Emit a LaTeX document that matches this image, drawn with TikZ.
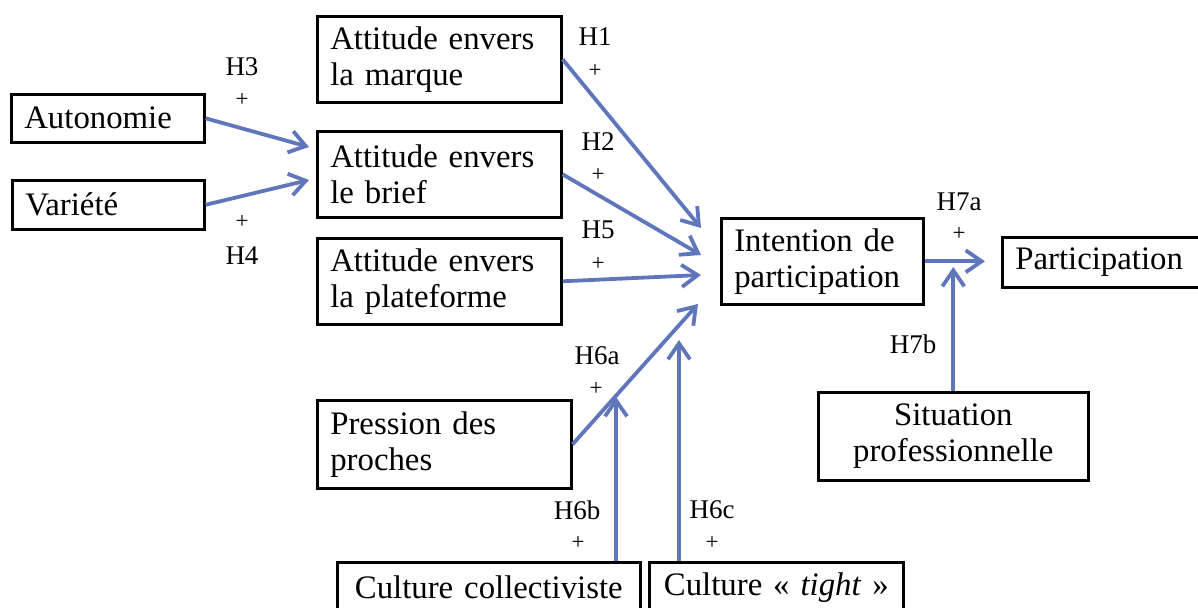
\documentclass[tikz,border=0pt]{standalone}
\usepackage{fontspec}
\setmainfont{Liberation Serif}
\usetikzlibrary{arrows.meta,calc}
\definecolor{arrblue}{RGB}{96,118,188}
\tikzset{
 box/.style={draw=black, line width=1.3pt, anchor=north west, inner xsep=6.5pt, inner ysep=0pt, font=\fontsize{16.4}{18}\selectfont, align=left},
 cbox/.style={box, align=center},
 arr/.style={draw=arrblue, line width=1.9pt, -{Straight Barb[length=8pt,width=11pt]}},
 hlab/.style={font=\fontsize{13.5}{15}\selectfont, inner sep=0pt},
 plab/.style={font=\fontsize{11.5}{12}\selectfont, inner sep=0pt},
}
\begin{document}
\begin{tikzpicture}[x=0.5pt,y=-0.5pt]
\useasboundingbox (0,0) rectangle (1198,608);
\clip (0,0) rectangle (1198,608);
% boxes
\node[box, text width=83.5pt, minimum height=24pt] (aut) at (10,93) {Autonomie};
\node[box, text width=83pt, minimum height=24.5pt] (var) at (11,179) {Variété};
\node[box, text width=109pt, minimum height=43pt] (mar) at (316,15) {Attitude envers\\la marque};
\node[box, text width=109pt, minimum height=43pt] (bri) at (316,130) {Attitude envers\\le brief};
\node[box, text width=109pt, minimum height=43pt] (pla) at (316,237) {Attitude envers\\la plateforme};
\node[box, text width=114pt, minimum height=44pt] (pre) at (316,399) {Pression des\\proches};
\node[box, text width=88pt, minimum height=43pt] (int) at (720,217) {Intention de\\participation};
\node[box, text width=102pt, minimum height=25pt] (par) at (1001,236) {Participation};
\node[cbox, text width=122pt, minimum height=44pt] (sit) at (817,391) {Situation\\professionnelle};
\node[cbox, text width=138.5pt, minimum height=25pt] (col) at (336,561) {Culture collectiviste};
\node[cbox, text width=114pt, minimum height=25pt] (tig) at (648,561) {Culture «~\textit{tight}~»};
% arrow end points
\coordinate (b1) at ($(bri.north west)+(-7,17)$);
\coordinate (b2) at ($(bri.north west)+(-7,50)$);
\coordinate (i1) at ($(int.north west)+(-19,11)$);
\coordinate (i2) at ($(int.north west)+(-19,38)$);
\coordinate (i3) at ($(int.north west)+(-19,58)$);
\coordinate (i4) at ($(int.north west)+(-22,87)$);
\coordinate (cs) at ($(col.north west)+(280,0)$);
\coordinate (ce) at ($(cs)+(0,-164)$);
\coordinate (ts) at ($(tig.north west)+(31,0)$);
\coordinate (te) at ($(ts)+(0,-221)$);
\coordinate (pt) at ($(int.east -| par.west)+(-16,0)$);
\coordinate (se) at ($(sit.north)+(0,-124)$);
% arrows
\draw[arr] (aut.east) -- (b1);
\draw[arr] (var.east) -- (b2);
\draw[arr] (mar.east) -- (i1);
\draw[arr] (bri.east) -- (i2);
\draw[arr] (pla.east) -- (i3);
\draw[arr] (pre.east) -- (i4);
\draw[arr] (cs) -- (ce);
\draw[arr] (ts) -- (te);
\draw[arr] (int.east) -- (pt);
\draw[arr] (sit.north) -- (se);
% labels
\node[hlab] (h3) at (242,67) {H3};
\node[plab] (p3) at (242,100) {+};
\node[plab] (p4) at (242,222) {+};
\node[hlab] (h4) at (242,256) {H4};
\node[hlab] (h1) at (595,37) {H1};
\node[plab] (p1) at (595,71) {+};
\node[hlab] (h2) at (598,142) {H2};
\node[plab] (p2) at (598,175) {+};
\node[hlab] (h5) at (598,230) {H5};
\node[plab] (p5) at (598,264) {+};
\node[hlab] (h6a) at (597,356) {H6a};
\node[plab] (p6a) at (596,389) {+};
\node[hlab] (h6b) at (577,510) {H6b};
\node[plab] (p6b) at (578,543) {+};
\node[hlab] (h6c) at (712,510) {H6c};
\node[plab] (p6c) at (712,543) {+};
\node[hlab] (h7a) at (959,202) {H7a};
\node[plab] (p7a) at (959,234) {+};
\node[hlab] (h7b) at (913,344) {H7b};
\end{tikzpicture}
\end{document}
